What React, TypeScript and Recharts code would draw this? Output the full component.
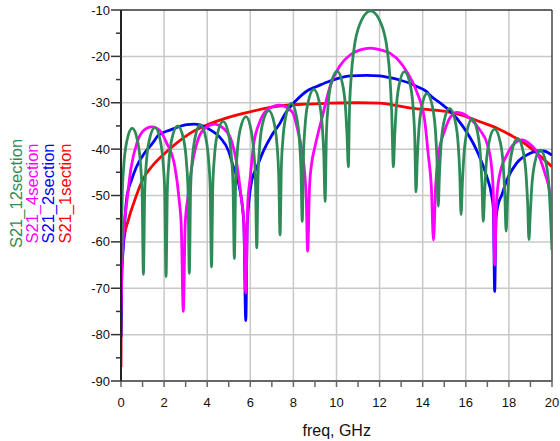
import React from 'react';
import { LineChart, Line, XAxis, YAxis, CartesianGrid, ReferenceLine } from 'recharts';

if (typeof document !== 'undefined') {
  document.body.style.margin = '0';
}

const freqTicks = [0, 1, 2, 3, 4, 5, 6, 7, 8, 9, 10, 11, 12, 13, 14, 15, 16, 17, 18, 19, 20];
const freqGrid = [2, 4, 6, 8, 10, 12, 14, 16, 18];
const dbTicks = [-90, -85, -80, -75, -70, -65, -60, -55, -50, -45, -40, -35, -30, -25, -20, -15, -10];
const dbGrid = [-80, -70, -60, -50, -40, -30, -20];

const seriesNames = ['S21_12section', 'S21_4section', 'S21_2section', 'S21_1section'];
const seriesColors = ['#2e8b57', '#ff00ff', '#0000ff', '#ff0000'];

// S21_12section
const s12Freq = [
  0, 0.06, 0.13, 0.26, 0.52, 0.78, 0.91, 0.98, 1.04,
  1.1, 1.17, 1.3, 1.58, 1.83, 1.96, 2.03, 2.09,
  2.15, 2.22, 2.35, 2.63, 2.91, 3.04, 3.11, 3.17,
  3.23, 3.3, 3.43, 3.68, 3.94, 4.07, 4.14, 4.2,
  4.26, 4.33, 4.46, 4.74, 5.0, 5.13, 5.2, 5.26,
  5.32, 5.39, 5.52, 5.8, 6.04, 6.17, 6.24, 6.3,
  6.36, 6.43, 6.56, 6.86, 7.12, 7.25, 7.32, 7.38,
  7.44, 7.51, 7.64, 7.9, 8.15, 8.28, 8.35, 8.41,
  8.47, 8.54, 8.67, 8.95, 9.21, 9.34, 9.41, 9.47,
  9.53, 9.6, 9.73, 10.03, 10.29, 10.42, 10.49, 10.55,
  10.6, 10.68, 10.81, 11.07, 11.58, 12.09, 12.35, 12.48, 12.56, 12.64,
  12.7, 12.77, 12.9, 13.15, 13.43, 13.56, 13.63, 13.69,
  13.75, 13.82, 13.95, 14.2, 14.46, 14.59, 14.66, 14.72,
  14.78, 14.85, 14.98, 15.25, 15.52, 15.65, 15.72, 15.78,
  15.84, 15.91, 16.04, 16.29, 16.55, 16.68, 16.75, 16.81,
  16.87, 16.94, 17.07, 17.33, 17.61, 17.74, 17.81, 17.87,
  17.93, 18.0, 18.13, 18.4, 18.67, 18.8, 18.87, 18.93,
  18.99, 19.06, 19.19, 19.45, 19.73, 19.86, 19.93, 20.0,
];
const s12Db = [
  -64, -49.5, -43.5, -38.5, -35.5, -38.5, -43.5, -49.5, -67,
  -49.3, -43.3, -38.3, -35.3, -38.3, -43.3, -49.3, -67.5,
  -49, -43, -38, -35, -38, -43, -49, -66.8,
  -48.7, -42.7, -37.7, -34.7, -37.7, -42.7, -48.7, -65.4,
  -48, -42, -37, -34, -37, -42, -48, -63.6,
  -47, -41, -36, -33, -36, -41, -47, -61.3,
  -45.7, -39.7, -34.7, -31.7, -34.7, -39.7, -45.7, -58.5,
  -44.1, -38.1, -33.1, -30.1, -33.1, -38.1, -44.1, -55.6,
  -41.1, -35.1, -30.1, -27.1, -30.1, -35.1, -41.1, -51.3,
  -37.2, -31.2, -26.2, -23.2, -26.2, -31.2, -37.2, -43.8,
  -32, -24.5, -18.5, -13.2, -10.2, -13.2, -18.5, -24.5, -32, -43.8,
  -37.3, -31.3, -26.3, -23.3, -26.3, -31.3, -37.3, -49.2,
  -42, -36, -31, -28, -31, -36, -42, -52.3,
  -45.2, -39.2, -34.2, -31.2, -34.2, -39.2, -45.2, -54.1,
  -47.5, -41.5, -36.5, -33.5, -36.5, -41.5, -47.5, -55.6,
  -49.7, -43.7, -38.7, -35.7, -38.7, -43.7, -49.7, -57.7,
  -51.7, -45.7, -40.7, -37.7, -40.7, -45.7, -51.7, -59.5,
  -54.2, -48.2, -43.2, -40.2, -43.2, -48.2, -54.2, -61.8,
];

// S21_4section
const s4Freq = [
  0, 0.05, 0.12, 0.28, 0.45, 0.75, 1.05, 1.42, 1.8, 2.1, 2.5, 2.7, 2.8, 2.89,
  2.98, 3.1, 3.3, 3.6, 3.95, 4.34, 4.7, 5.08, 5.38, 5.58, 5.7, 5.79,
  5.88, 6.0, 6.14, 6.45, 6.8, 7.35, 7.95, 8.2, 8.4, 8.52, 8.6, 8.66,
  8.75, 8.85, 9.0, 9.38, 9.7, 10.16, 10.63, 11.1, 11.58, 12.05, 12.48, 13.0, 13.26, 13.72, 14.1, 14.26, 14.4, 14.5,
  14.6, 14.72, 15.03, 15.3, 15.6, 16.2, 16.66, 17.0, 17.2, 17.28, 17.34,
  17.42, 17.55, 17.9, 18.3, 18.6, 19.0, 19.29, 19.67, 19.9, 20,
];
const s4Db = [
  -75, -65, -58, -51, -44.5, -38.5, -36, -35.2, -36, -38.5, -43.8, -51, -57, -75,
  -56, -50.5, -43.4, -37.6, -35.3, -34.6, -35.3, -37.6, -43.4, -50.5, -56, -71,
  -52, -46, -39.5, -34, -31.5, -30.5, -32, -35.9, -40.5, -45, -51, -62,
  -48, -43, -39.5, -32.3, -26.5, -22, -19.7, -18.6, -18.2, -18.6, -19.3, -21.5, -23.3, -27.6, -34.1, -41.3, -48, -59.6,
  -48, -41.6, -35.9, -33, -32.1, -33.4, -35.9, -39, -44, -50, -65,
  -52, -46, -41.3, -38.6, -38, -39, -40.5, -45.2, -49.5, -54,
];

// S21_2section
const s2Freq = [
  0, 0.03, 0.11, 0.26, 0.5, 0.7, 1.1, 1.5, 1.73, 2.27, 3.05, 3.4, 3.82, 4.2, 4.6, 5.0, 5.21, 5.52, 5.7, 5.79,
  5.86, 6.07, 6.3, 6.6, 7.0, 7.38, 7.6, 8.15, 8.68, 9.08, 9.7, 10.63, 11.4, 12.0, 12.48, 13.0, 13.4, 13.72,
  14.18, 14.34, 14.8, 15.27, 15.88, 16.5, 16.97, 17.2, 17.28, 17.34,
  17.4, 17.5, 17.66, 17.9, 18.36, 18.98, 19.3, 19.6, 20,
];
const s2Db = [
  -80.5, -68, -61, -50.8, -46.5, -44, -40.8, -38.5, -37, -35.9, -34.7, -34.6, -35, -36, -37.5, -40.5, -43.8, -48.8, -56, -77,
  -56, -46.7, -44, -40.5, -37, -34.4, -32.5, -29.4, -27.3, -26.5, -25.3, -24.2, -24.1, -24.2, -24.6, -25.2, -25.8, -26.5,
  -27.6, -28.4, -30, -31.8, -35.2, -40.2, -45.9, -50, -53, -70.7,
  -55, -52, -50, -46.7, -43, -40.9, -40.4, -40.4, -41.3,
];

// S21_1section
const s1Freq = [
  0, 0.01, 0.03, 0.11, 0.34, 0.6, 1.04, 1.42, 2.2, 2.58, 3.2, 3.98, 4.7, 5.68, 7.22, 8.5, 9.7,
  11.0, 12.0, 12.8, 13.56, 14.3, 15.1, 15.9, 16.66, 17.5, 18.2, 18.8, 19.4, 20,
];
const s1Db = [
  -87, -76, -65.3, -60.3, -55.3, -51.5, -46.3, -43.8, -40.2, -38.7, -36.6, -34.8, -33.6, -32.3, -30.8, -30.3, -30.1,
  -30, -30.1, -30.6, -31.2, -31.5, -31.9, -32.8, -34.1, -35.6, -37.3, -39, -41.3, -43.8,
];

const toData = (fs: number[], ds: number[]) => fs.map((f, i) => ({ x: f, y: ds[i] }));
const seriesData = [toData(s12Freq, s12Db), toData(s4Freq, s4Db), toData(s2Freq, s2Db), toData(s1Freq, s1Db)];

const FONT = '"Liberation Sans", Arial, sans-serif';

const XTick = (props: any) => {
  const { x, y, payload } = props;
  const v = payload.value;
  return (
    <g>
      <line x1={x} x2={x} y1={y} y2={y + 6} stroke="#666" strokeWidth={1.5} />
      {v % 2 === 0 ? (
        <text x={x} y={y + 25.5} textAnchor="middle" fontSize={13} fontFamily={FONT} fill="#111">
          {v}
        </text>
      ) : null}
    </g>
  );
};

const YTick = (props: any) => {
  const { x, y, payload } = props;
  const v = payload.value;
  const major = v % 10 === 0;
  return (
    <g>
      <line x1={x - (major ? 10 : 5)} x2={x} y1={y} y2={y} stroke="#333" strokeWidth={1.5} />
      {major ? (
        <text x={x - 11} y={y + 4.6} textAnchor="end" fontSize={13} fontFamily={FONT} fill="#111">
          {v}
        </text>
      ) : null}
    </g>
  );
};

const legendX = [21.7, 37.7, 54.3, 71];

export default function App() {
  const drawOrder = [3, 2, 1, 0];
  return (
    <div style={{ position: 'relative', width: 560, height: 441, overflow: 'hidden', fontFamily: FONT }}>
      <LineChart width={560} height={441} margin={{ top: 10, right: 8, bottom: 30, left: 0 }}>
        <CartesianGrid
          stroke="#c8c8c8"
          strokeWidth={1.5}
          horizontalValues={dbGrid}
          verticalValues={freqGrid}
        />
        <XAxis
          type="number"
          dataKey="x"
          domain={[0, 20]}
          ticks={freqTicks}
          interval={0}
          tickSize={0}
          tickMargin={0}
          height={30}
          axisLine={{ stroke: '#666', strokeWidth: 2 }}
          tickLine={false}
          tick={<XTick />}
          allowDataOverflow
        />
        <YAxis
          type="number"
          dataKey="y"
          domain={[-90, -10]}
          ticks={dbTicks}
          interval={0}
          tickSize={0}
          tickMargin={0}
          width={121}
          axisLine={{ stroke: '#222', strokeWidth: 2 }}
          tickLine={false}
          tick={<YTick />}
          allowDataOverflow
        />
        <ReferenceLine y={-10} stroke="#333" strokeWidth={1.5} />
        <ReferenceLine x={20} stroke="#444" strokeWidth={1.5} />
        {drawOrder.map((i) => (
          <Line
            key={seriesNames[i]}
            name={seriesNames[i]}
            data={seriesData[i]}
            dataKey="y"
            type="monotone"
            stroke={seriesColors[i]}
            strokeWidth={2.8}
            dot={false}
            activeDot={false}
            isAnimationActive={false}
          />
        ))}
      </LineChart>
      <svg
        width={560}
        height={441}
        style={{ position: 'absolute', left: 0, top: 0, pointerEvents: 'none' }}
      >
        {seriesNames.map((n, i) => (
          <text
            key={n}
            transform={`translate(${legendX[i]},193.5) rotate(-90)`}
            textAnchor="middle"
            fontSize={16.5}
            fontFamily={FONT}
            fill={seriesColors[i]}
          >
            {n}
          </text>
        ))}
        <text x={336.7} y={436} textAnchor="middle" fontSize={16} fontFamily={FONT} fill="#111">
          freq, GHz
        </text>
      </svg>
    </div>
  );
}
